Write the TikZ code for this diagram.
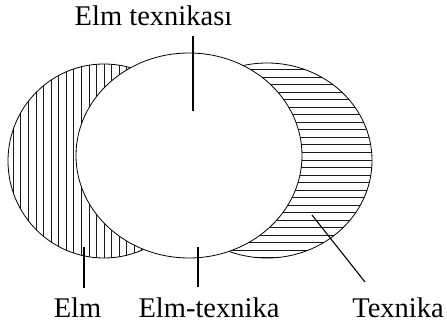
\documentclass[tikz,border=0pt]{standalone}
\usepackage{fontspec}
\setmainfont{Liberation Serif}
\begin{document}
\begin{tikzpicture}[x=1pt,y=-1pt,
  lbl/.style={anchor=base,inner sep=0pt,font=\fontsize{28.5}{31}\selectfont},
  outline/.style={draw=black,line width=0.8pt},
  hatch/.style={line width=1pt,black!90},
  conn/.style={draw=black,line width=1.1pt}]
\useasboundingbox (0,0) rectangle (447,326);
% left ellipse, vertical hatching
\begin{scope}
  \clip (104,161) ellipse [x radius=96, y radius=97];
  \foreach \i in {0,...,25} {
    \draw[hatch] (13.3+7.57*\i,50) -- (13.3+7.57*\i,270);
  }
\end{scope}
\draw[outline] (104,161) ellipse [x radius=96, y radius=97];
% right ellipse, horizontal hatching
\begin{scope}
  \clip (267,160.5) ellipse [x radius=105, y radius=97.5];
  \foreach \i in {0,...,25} {
    \draw[hatch] (150,70+7.5*\i) -- (380,70+7.5*\i);
  }
\end{scope}
\draw[outline] (267,160.5) ellipse [x radius=105, y radius=97.5];
% middle ellipse
\draw[outline,fill=white] (189,155.5) ellipse [x radius=113, y radius=102.5];
% labels
\node[lbl] (top) at (153.5,26) {Elm texnikası};
\node[lbl] (elm) at (77.5,317) {Elm};
\node[lbl] (elmtex) at (209,317) {Elm-texnika};
\node[lbl] (tex) at (398,317) {Texnika};
% connector ends
\coordinate (t1) at (193,36);
\coordinate (t2) at (193,111);
\coordinate (e1) at (84,247);
\coordinate (e2) at (84,288);
\coordinate (m1) at (198,247);
\coordinate (m2) at (198,287);
\coordinate (x1) at (312,215);
\coordinate (x2) at (365,282);
\draw[conn] (t1) -- (t2);
\draw[conn] (e1) -- (e2);
\draw[conn] (m1) -- (m2);
\draw[conn] (x1) -- (x2);
\end{tikzpicture}
\end{document}
